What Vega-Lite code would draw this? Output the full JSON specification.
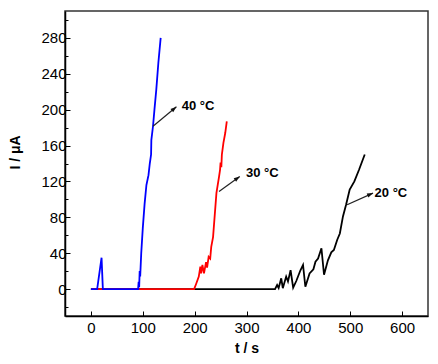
{
  "$schema": "https://vega.github.io/schema/vega-lite/v6.json",
  "width": 363,
  "height": 305,
  "autosize": {"type": "none"},
  "padding": {"left": 65, "top": 11, "right": 10, "bottom": 48},
  "background": "white",
  "config": {
    "view": {"stroke": "#333333", "strokeWidth": 1.5},
    "axis": {
      "labelFont": "Liberation Sans",
      "labelFontSize": 15,
      "labelColor": "black",
      "labelOverlap": false,
      "labelFlush": false,
      "titleFont": "Liberation Sans",
      "titleFontSize": 14,
      "titleFontWeight": "bold",
      "titleColor": "black",
      "domainColor": "black",
      "domainWidth": 1.5,
      "tickColor": "black",
      "tickWidth": 1,
      "grid": false
    }
  },
  "resolve": {"axis": {"y": "independent"}},
  "datasets": {
    "curves": [
      {"series": "20 °C", "t": 0, "I": 0},
      {"series": "20 °C", "t": 355, "I": 0},
      {"series": "20 °C", "t": 359, "I": 4.5},
      {"series": "20 °C", "t": 362, "I": 1.2},
      {"series": "20 °C", "t": 367, "I": 12},
      {"series": "20 °C", "t": 370, "I": 1},
      {"series": "20 °C", "t": 376.5, "I": 14},
      {"series": "20 °C", "t": 380, "I": 8.5},
      {"series": "20 °C", "t": 385, "I": 21},
      {"series": "20 °C", "t": 390, "I": 1.5},
      {"series": "20 °C", "t": 396, "I": 9},
      {"series": "20 °C", "t": 404, "I": 21},
      {"series": "20 °C", "t": 409, "I": 27},
      {"series": "20 °C", "t": 413.5, "I": 2.6},
      {"series": "20 °C", "t": 421.6, "I": 17.5},
      {"series": "20 °C", "t": 429, "I": 22},
      {"series": "20 °C", "t": 433, "I": 30.5},
      {"series": "20 °C", "t": 438, "I": 34},
      {"series": "20 °C", "t": 444.5, "I": 45.5},
      {"series": "20 °C", "t": 449.5, "I": 16},
      {"series": "20 °C", "t": 457, "I": 32},
      {"series": "20 °C", "t": 463.5, "I": 41},
      {"series": "20 °C", "t": 468.5, "I": 43.6},
      {"series": "20 °C", "t": 475, "I": 55},
      {"series": "20 °C", "t": 480, "I": 62},
      {"series": "20 °C", "t": 486, "I": 81},
      {"series": "20 °C", "t": 492, "I": 94},
      {"series": "20 °C", "t": 499, "I": 111},
      {"series": "20 °C", "t": 508, "I": 120},
      {"series": "20 °C", "t": 517, "I": 133},
      {"series": "20 °C", "t": 528, "I": 150},
      {"series": "30 °C", "t": 0, "I": 0},
      {"series": "30 °C", "t": 199, "I": 0},
      {"series": "30 °C", "t": 203, "I": 6},
      {"series": "30 °C", "t": 208, "I": 14},
      {"series": "30 °C", "t": 211, "I": 25},
      {"series": "30 °C", "t": 212.5, "I": 17.5},
      {"series": "30 °C", "t": 215, "I": 27},
      {"series": "30 °C", "t": 218, "I": 17.5},
      {"series": "30 °C", "t": 222, "I": 30},
      {"series": "30 °C", "t": 224, "I": 24},
      {"series": "30 °C", "t": 227, "I": 36},
      {"series": "30 °C", "t": 230, "I": 34},
      {"series": "30 °C", "t": 232, "I": 47},
      {"series": "30 °C", "t": 235.5, "I": 58},
      {"series": "30 °C", "t": 242, "I": 107},
      {"series": "30 °C", "t": 247, "I": 125},
      {"series": "30 °C", "t": 249, "I": 133},
      {"series": "30 °C", "t": 250, "I": 141},
      {"series": "30 °C", "t": 251.5, "I": 136},
      {"series": "30 °C", "t": 252.5, "I": 150},
      {"series": "30 °C", "t": 255.5, "I": 163},
      {"series": "30 °C", "t": 259, "I": 174},
      {"series": "30 °C", "t": 262, "I": 187},
      {"series": "40 °C", "t": 0, "I": 0},
      {"series": "40 °C", "t": 12, "I": 0},
      {"series": "40 °C", "t": 20.5, "I": 35},
      {"series": "40 °C", "t": 23, "I": 0},
      {"series": "40 °C", "t": 91, "I": 0},
      {"series": "40 °C", "t": 92, "I": 8},
      {"series": "40 °C", "t": 93, "I": 2},
      {"series": "40 °C", "t": 94, "I": 20},
      {"series": "40 °C", "t": 95, "I": 14},
      {"series": "40 °C", "t": 97, "I": 40},
      {"series": "40 °C", "t": 100, "I": 68},
      {"series": "40 °C", "t": 103.5, "I": 95},
      {"series": "40 °C", "t": 107, "I": 116},
      {"series": "40 °C", "t": 111, "I": 127},
      {"series": "40 °C", "t": 113.5, "I": 140},
      {"series": "40 °C", "t": 116, "I": 150},
      {"series": "40 °C", "t": 116.5, "I": 166},
      {"series": "40 °C", "t": 119.7, "I": 181.5},
      {"series": "40 °C", "t": 122.5, "I": 200},
      {"series": "40 °C", "t": 126, "I": 222},
      {"series": "40 °C", "t": 130, "I": 252},
      {"series": "40 °C", "t": 134.5, "I": 280}
    ],
    "arrows": [
      {"label": "40 °C", "t0": 119.7, "I0": 181.5, "t1": 164.9, "I1": 203.2, "tx": 175, "Ix": 204.5},
      {"label": "30 °C", "t0": 247, "I0": 108.8, "t1": 287, "I1": 125.6, "tx": 299, "Ix": 129},
      {"label": "20 °C", "t0": 494, "I0": 94, "t1": 544, "I1": 107, "tx": 547, "Ix": 106.8}
    ]
  },
  "layer": [
    {
      "data": {"name": "curves"},
      "transform": [{"filter": "datum.series == '20 °C'"}],
      "mark": {"type": "line", "color": "black", "strokeWidth": 1.8, "clip": true},
      "encoding": {
        "x": {
          "field": "t", "type": "quantitative",
          "scale": {"domain": [-50, 650], "nice": false, "zero": false},
          "axis": {
            "title": "t / s",
            "values": [0, 50, 100, 150, 200, 250, 300, 350, 400, 450, 500, 550, 600],
            "labelExpr": "datum.value % 100 == 0 ? datum.label : ''",
            "tickSize": {"condition": {"test": "datum.value % 100 == 0", "value": -5}, "value": -3},
            "labelPadding": 9,
            "titlePadding": 6
          }
        },
        "y": {
          "field": "I", "type": "quantitative",
          "scale": {"domain": [-30, 310], "nice": false, "zero": false},
          "axis": {
            "orient": "left",
            "title": "I / μA",
            "values": [0, 40, 80, 120, 160, 200, 240, 280],
            "tickSize": -5,
            "labelPadding": 4,
            "titleX": -43,
            "titleY": 141
          }
        }
      }
    },
    {
      "data": {"name": "curves"},
      "transform": [{"filter": "datum.series == '30 °C'"}],
      "mark": {"type": "line", "color": "#ff0000", "strokeWidth": 1.8, "clip": true},
      "encoding": {
        "x": {"field": "t", "type": "quantitative"},
        "y": {
          "field": "I", "type": "quantitative",
          "axis": {
            "orient": "left",
            "title": null,
            "values": [-20, 20, 60, 100, 140, 180, 220, 260, 300],
            "labels": false,
            "domain": false,
            "tickSize": -3,
            "offset": 0
          }
        }
      }
    },
    {
      "data": {"name": "curves"},
      "transform": [{"filter": "datum.series == '40 °C'"}],
      "mark": {"type": "line", "color": "#0000ff", "strokeWidth": 1.8, "clip": true},
      "encoding": {
        "x": {"field": "t", "type": "quantitative"},
        "y": {"field": "I", "type": "quantitative", "axis": null}
      }
    },
    {
      "data": {"name": "arrows"},
      "mark": {"type": "rule", "color": "#222222", "strokeWidth": 1.2},
      "encoding": {
        "x": {"field": "t0", "type": "quantitative"},
        "y": {"field": "I0", "type": "quantitative", "axis": null},
        "x2": {"field": "t1"},
        "y2": {"field": "I1"}
      }
    },
    {
      "data": {"name": "arrows"},
      "transform": [{"filter": "datum.label == '40 °C'"}],
      "mark": {"type": "point", "shape": "M0,0L-0.7,2L0.7,2Z", "filled": true, "color": "#111111", "size": 36, "opacity": 1, "angle": 50},
      "encoding": {
        "x": {"field": "t1", "type": "quantitative"},
        "y": {"field": "I1", "type": "quantitative", "axis": null}
      }
    },
    {
      "data": {"name": "arrows"},
      "transform": [{"filter": "datum.label == '30 °C'"}],
      "mark": {"type": "point", "shape": "M0,0L-0.7,2L0.7,2Z", "filled": true, "color": "#111111", "size": 36, "opacity": 1, "angle": 54},
      "encoding": {
        "x": {"field": "t1", "type": "quantitative"},
        "y": {"field": "I1", "type": "quantitative", "axis": null}
      }
    },
    {
      "data": {"name": "arrows"},
      "transform": [{"filter": "datum.label == '20 °C'"}],
      "mark": {"type": "point", "shape": "M0,0L-0.7,2L0.7,2Z", "filled": true, "color": "#111111", "size": 36, "opacity": 1, "angle": 66},
      "encoding": {
        "x": {"field": "t1", "type": "quantitative"},
        "y": {"field": "I1", "type": "quantitative", "axis": null}
      }
    },
    {
      "data": {"name": "arrows"},
      "mark": {"type": "text", "align": "left", "baseline": "middle", "font": "Liberation Sans", "fontSize": 13, "fontWeight": "bold", "color": "black"},
      "encoding": {
        "x": {"field": "tx", "type": "quantitative"},
        "y": {"field": "Ix", "type": "quantitative", "axis": null},
        "text": {"field": "label"}
      }
    }
  ]
}
